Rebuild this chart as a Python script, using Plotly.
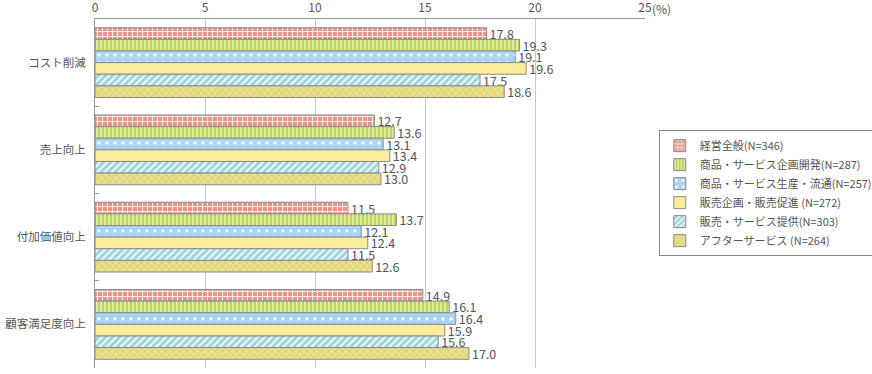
import plotly.graph_objects as go

categories = ["コスト削減", "売上向上", "付加価値向上", "顧客満足度向上"]
series_names = ["経営全般(N=346)", "商品・サービス企画開発(N=287)", "商品・サービス生産・流通(N=257)",
                "販売企画・販売促進 (N=272)", "販売・サービス提供(N=303)", "アフターサービス (N=264)"]
v_keiei = [17.8, 12.7, 11.5, 14.9]
v_kikaku = [19.3, 13.6, 13.7, 16.1]
v_seisan = [19.1, 13.1, 12.1, 16.4]
v_hanbai = [19.6, 13.4, 12.4, 15.9]
v_teikyo = [17.5, 12.9, 11.5, 15.6]
v_after = [18.6, 13.0, 12.6, 17.0]
series_values = [v_keiei, v_kikaku, v_seisan, v_hanbai, v_teikyo, v_after]
x_ticks = [0, 5, 10, 15, 20, 25]

styles = [
    dict(shape="+", bg="#e8958a", fg="#ffffff", size=5, sol=0.3),
    dict(shape="|", bg="#b8d255", fg="#e8f1bd", size=4, sol=0.4),
    dict(shape=".", bg="#a9d3f3", fg="#ffffff", size=8, sol=0.15),
    dict(shape="", bg="#fdeb9c", fg="#fdeb9c", size=5, sol=0.3),
    dict(shape="/", bg="#9ed3da", fg="#eaf7f8", size=5, sol=0.45),
    dict(shape="x", bg="#efe27a", fg="#c4c4b0", size=5, sol=0.3),
]

fig = go.Figure()
for name, vals, st in zip(series_names, series_values, styles):
    fig.add_trace(go.Bar(
        y=categories, x=vals, name=name, orientation="h",
        marker=dict(color=st["bg"], line=dict(color="#8a8a8a", width=1),
                    pattern=dict(shape=st["shape"], bgcolor=st["bg"], fgcolor=st["fg"],
                                 size=st["size"], solidity=st["sol"], fillmode="replace")),
        text=[f"{v:.1f}" for v in vals], textposition="outside", constraintext="none",
        textfont=dict(size=12.5, color="#555555"), cliponaxis=False,
    ))

fig.update_layout(
    width=872, height=374,
    margin=dict(l=95, r=227, t=19, b=6, autoexpand=False),
    barmode="group", bargap=0.2, bargroupgap=0,
    plot_bgcolor="white", paper_bgcolor="white",
    font=dict(family="Noto Sans CJK JP", color="#555555", size=12),
    legend=dict(x=1.025, y=0.501, xanchor="left", yanchor="middle",
                bordercolor="#888888", borderwidth=1, font=dict(size=11, color="#555555"),
                tracegroupgap=0, itemwidth=30),
    xaxis=dict(side="top", range=[0, 25], tickvals=x_ticks, ticktext=[str(t) for t in x_ticks],
               showgrid=True, gridcolor="#c8c8c8", gridwidth=1, showline=True, linecolor="#999999",
               zeroline=False, ticks="", automargin=False, ticklabelstandoff=1,
               tickfont=dict(size=12, color="#555555")),
    yaxis=dict(autorange="reversed", showline=True, linecolor="#999999", ticks="inside",
               tickson="boundaries", ticklen=4, tickcolor="#999999", showgrid=False,
               automargin=False, ticklabelstandoff=6,
               tickfont=dict(size=11.5, color="#555555")),
)
fig.add_annotation(x=25, y=1, xref="x", yref="paper", text="(%)", showarrow=False,
                   xanchor="left", yanchor="bottom", xshift=5, yshift=0,
                   font=dict(size=12, color="#555555"))
fig.write_html("out.html", config={"displayModeBar": False},
               post_script="document.body.style.margin='0px';document.body.style.overflow='hidden';")
